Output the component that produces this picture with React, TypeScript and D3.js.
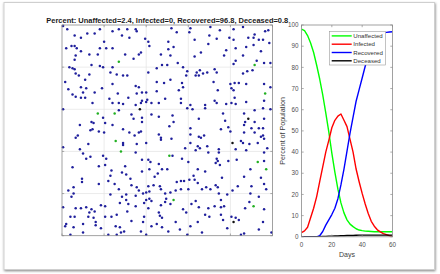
import React from "react";
import * as d3 from "d3";

const W = 440;
const H = 274;
const FONT = "'Liberation Sans', Arial, Helvetica, sans-serif";

const titleText = "Percent: Unaffected=2.4, Infected=0, Recovered=96.8, Deceased=0.8";
const seriesNames = ["Unaffected", "Infected", "Recovered", "Deceased"];
const seriesColors = ["#00ff00", "#ff0000", "#0000ff", "#000000"];
const xLabel = "Days";
const yLabel = "Percent of Population";

const days = [0, 2, 4, 6, 8, 10, 12, 14, 16, 18, 20, 22, 24, 26, 28, 30, 32, 34, 36, 38, 40, 42, 44, 46, 48, 50, 52, 54, 56, 58, 60];
const unaffected = [98, 97.3, 95, 91.5, 87, 81, 74.5, 67, 58.5, 49.5, 39.5, 30.5, 22.5, 16, 11.3, 8, 6, 4.8, 3.8, 3.2, 2.9, 2.7, 2.6, 2.5, 2.4, 2.4, 2.4, 2.4, 2.4, 2.4, 2.4];
const infected = [2, 2.8, 4.5, 9, 13.5, 19, 26, 33, 40, 45.5, 51.5, 55, 57, 58, 55, 52, 46, 40, 32, 26, 20.5, 15.5, 11, 7.3, 5, 3.3, 2.3, 1.5, 1, 0.5, 0.1];
const recovered = [0, 0, 0, 0, 0, 0, 0.5, 2.5, 5.5, 8, 10.5, 13.5, 18, 24.5, 32, 40.5, 49, 56.5, 64, 69.5, 75, 80.5, 85.5, 89.5, 92.5, 94.5, 95.8, 96.3, 96.5, 96.7, 96.8];
const deceased = [0, 0, 0, 0, 0, 0, 0.1, 0.2, 0.2, 0.3, 0.3, 0.4, 0.4, 0.5, 0.5, 0.6, 0.6, 0.6, 0.7, 0.8, 0.8, 0.8, 0.8, 0.8, 0.8, 0.8, 0.8, 0.8, 0.8, 0.8, 0.8];

const yTicks = [0, 10, 20, 30, 40, 50, 60, 70, 80, 90, 100];
const xTicks = [0, 20, 40, 60];
const gridTicks = [0, 20, 40, 60, 80, 100];

const unaffectedPts: [number, number][] = [
  [27, 82.5], [17, 58], [25, 58], [91.5, 81], [96.5, 67.5], [25.5, 45], [28, 40], [51, 38], [93, 35], [97, 31.5], [53, 17], [91, 14],
];
const deceasedPts: [number, number][] = [[37, 60], [88.5, 55.5], [81, 44], [81.5, 6.5]];
const recoveredPts: [number, number][] = [
  [2.5, 98], [0.5, 99.5], [18, 98], [24, 97], [27, 98], [31, 98], [35, 98], [35.5, 97], [12, 96], [15.5, 96], [28.5, 95], [6, 95], [9, 94], [32, 94], [39.5, 93.5], [20, 92], [41, 92], [2, 89], [4.5, 90], [6, 90], [7, 89], [18, 89], [21, 89], [24, 89], [41.5, 90], [9, 87.5], [37.5, 87], [6.5, 85.5], [13, 86], [17, 86], [30, 86], [36.5, 86], [47, 86], [34, 84], [6, 83.5], [14, 81], [18, 80.5], [19.5, 80], [3.5, 80], [5, 79.5], [6, 79], [24, 80], [45, 79.5], [47.5, 81], [50, 81], [41, 77.5], [6.5, 77], [8, 76], [13, 76.5], [23, 77.5], [26, 76.5], [29, 76], [31, 76], [11, 74], [1.5, 73], [24, 72], [35, 71], [36.5, 70.5], [45, 73], [48.5, 72.5], [9, 70.5], [11.5, 70], [3, 69.5], [19, 70], [15.5, 68], [10, 68], [5, 67], [6.5, 66], [9, 65.5], [11, 65.5], [45, 68.5], [22.5, 65], [26.5, 67.5], [31.5, 65.5], [35.5, 67.5], [38, 68], [40, 68], [49, 65], [14.5, 63], [27, 63], [29, 62.5], [24, 63], [38, 64], [37.5, 63], [40.5, 64.5], [40, 63.5], [42.5, 63], [46, 63], [35, 62], [0.5, 60], [27, 59.5], [33, 57.5], [42.5, 57.5], [19.5, 56], [38, 56], [34, 55.5], [46, 56.5], [14, 54], [15, 53.5], [8.5, 52.5], [20.5, 53.5], [38, 54], [24, 52.5], [29, 50.5],
  [52, 98.5], [61, 98.5], [70.5, 99], [75, 97.5], [81.5, 98], [86, 99], [96.5, 97], [98, 97.5], [54.5, 96.5], [60.5, 96.5], [91.5, 95.5], [63, 93], [70, 95], [73.5, 93.5], [79.5, 94], [81.5, 93], [88.5, 94], [91, 94], [93.5, 93], [95.5, 93], [50.5, 92], [69.5, 91], [91, 90.5], [98.5, 91.5], [53, 89.5], [50.5, 88.5], [82.5, 89], [87.5, 89.5], [94.5, 87.5], [78, 88], [66, 87], [63, 85], [77, 85.5], [86, 85.5], [82.5, 83], [81.5, 81.5], [92.5, 83], [51.5, 85.5], [55, 82], [96, 82], [99, 82], [57.5, 80], [59.5, 78], [64, 77.5], [65.5, 78.5], [69, 77.5], [67, 77], [72.5, 79], [73.5, 77.5], [88, 78], [86, 77], [90.5, 78.5], [51.5, 74], [63.5, 76], [65, 76], [59, 76], [84, 72.5], [82, 72.5], [80, 72], [96, 72], [72, 73], [57, 72.5], [57.5, 70.5], [55.5, 69], [74, 69], [80.5, 70], [81.5, 69], [87.5, 72], [99, 70.5], [82, 65.5], [56.5, 65], [56.5, 63], [72.5, 64], [73.5, 63], [61, 62], [68, 62], [78, 62.5], [80.5, 63], [82.5, 62.5], [87.5, 63.5], [96, 64], [59.5, 60.5], [62, 60], [68, 60.5], [76.5, 58], [86.5, 58], [91.5, 59.5], [95.5, 60.5], [99, 60], [52.5, 57], [65, 55.5], [77.5, 54.5], [91.5, 54], [96, 55.5], [87, 54], [53, 54], [51, 52], [61, 51], [75.5, 50.5], [79, 51.5], [86.5, 52.5], [90, 51], [93.5, 51], [95.5, 51],
  [13.5, 50], [14.5, 50.5], [17.5, 49.5], [20, 49], [32, 49], [36.5, 49], [37.5, 49.5], [34.5, 47.5], [46, 48], [47, 46.5], [47, 45.5], [6.5, 46.5], [7.5, 47.5], [29, 44], [29, 43], [35.5, 43.5], [40, 44], [12.5, 43.5], [0.5, 42], [8.5, 41], [10, 39], [35, 39.5], [13.5, 37.5], [11.5, 36.5], [19.5, 38], [21, 36.5], [38, 36], [41, 36], [42, 35], [46, 34], [5, 32.5], [17.5, 33], [20.5, 33.5], [30, 33], [47.5, 31.5], [38, 30.5], [41.5, 31.5], [23.5, 31], [28.5, 30], [30.5, 29], [44, 28], [45.5, 29.5], [32.5, 27], [9.5, 27], [9.5, 25.5], [23, 28.5], [22, 26], [25, 24.5], [17.5, 24.5], [33, 24], [35.5, 23], [27, 22], [36.5, 21.5], [41, 23.5], [43.5, 24], [46.5, 23.5], [47, 22], [5.5, 23], [3, 21.5], [5.5, 20], [4.5, 18.5], [30.5, 19.5], [28.5, 18.5], [35, 19], [38.5, 20], [40, 20.5], [41.5, 21], [41.5, 17.5], [40, 17], [42.5, 16.5], [49, 20], [49.5, 17.5], [23, 19.5], [0.5, 13.5], [6.5, 13], [9, 13], [11.5, 13.5], [14, 12.5], [18.5, 14.5], [20.5, 14], [27.5, 15.5], [30.5, 17], [31.5, 15], [35, 14], [39, 15.5], [41, 13], [47, 14.5], [49, 16], [13, 11], [15.5, 11.5], [31, 11.5], [4, 9], [6, 9], [12.5, 9], [20.5, 9], [23.5, 9], [26, 10], [15, 8.5], [39, 9], [46, 11], [46.5, 9.5], [47.5, 8.5], [2, 5.5], [1.5, 4.5], [10, 5.5], [16, 6.5], [16, 5], [33, 7], [38.5, 6.5], [42.5, 4.5], [45, 5.5], [5.5, 4], [18.5, 3.5], [25.5, 4.5], [27.5, 4], [4, 0.5], [10, 1.5], [22, 0.5], [26, 0.5], [28, 1.5], [29.5, 2], [37.5, 2], [40, 0.5], [47.5, 4],
  [61, 48], [65, 47], [66, 46.5], [67.5, 47.5], [80, 49.5], [86.5, 49], [91.5, 49], [94.5, 47], [95.5, 47.5], [96, 46], [52, 46], [85, 45], [86, 44], [61, 44], [64.5, 42.5], [65.5, 41.5], [69, 42.5], [74.5, 41], [74.5, 39.5], [87.5, 40.5], [82.5, 41], [89, 43.5], [93, 44], [97.5, 41.5], [96, 39.5], [58.5, 41.5], [63.5, 40.5], [69.5, 39.5], [52.5, 38], [57, 36.5], [73.5, 36.5], [74, 35.5], [60, 35], [79, 35.5], [83, 36], [96, 35.5], [73, 34.5], [75, 33.5], [50, 31.5], [64.5, 31.5], [89.5, 31.5], [68, 30.5], [62.5, 28.5], [86.5, 28], [94.5, 27.5], [56.5, 26], [58, 26], [60.5, 26.5], [63, 26.5], [64.5, 25], [54.5, 25.5], [76, 27.5], [73, 24], [74, 23], [60, 22], [54, 21.5], [56.5, 22], [66.5, 22], [70.5, 22], [81, 21.5], [83.5, 23.5], [90, 23.5], [96, 24.5], [51.5, 20.5], [74.5, 20], [78.5, 19.5], [93.5, 18.5], [97, 22], [89.5, 20], [68.5, 23], [63.5, 16.5], [89, 16], [75.5, 17], [51.5, 15], [61.5, 15], [65, 13.5], [69.5, 13], [72.5, 14], [75.5, 13.5], [77, 14], [87, 13], [96, 12.5], [57.5, 12.5], [68, 10], [75.5, 10], [70, 9], [59, 11], [80.5, 9], [82.5, 8.5], [84, 7.5], [54, 6.5], [64.5, 6.5], [61, 4.5], [76.5, 7.5], [95.5, 6.5], [50.5, 2], [56, 3], [78.5, 3.5], [93.5, 3], [59.5, 0.5], [66.5, 1.5], [85, 0.5], [86.5, 1], [99.5, 1.5],
];

const LEFT = { x0: 62, x1: 272.5, y0: 25, y1: 235.7 };
const RIGHT = { x0: 301.5, x1: 392.5, y0: 25, y1: 236.8 };
const AXIS_COLOR = "#8a8a8a";
const TICK_TEXT = "#505050";

export default function App() {
  const sx = d3.scaleLinear().domain([0, 100]).range([LEFT.x0, LEFT.x1]);
  const sy = d3.scaleLinear().domain([0, 100]).range([LEFT.y1, LEFT.y0]);
  const rx = d3.scaleLinear().domain([0, 60]).range([RIGHT.x0, RIGHT.x1]);
  const ry = d3.scaleLinear().domain([0, 100]).range([RIGHT.y1, RIGHT.y0]);

  const seriesValues = [unaffected, infected, recovered, deceased];
  const line = (vals: number[]) =>
    d3.line<number>().x((_, i) => rx(days[i])).y((v) => ry(v))(vals) || "";

  const tl = 2.2;

  const legend = { x: 329.3, y: 31.3, w: 56.4, h: 33.7, row0: 35.9, dy: 8.3 };

  return (
    <svg
      width={W}
      height={H}
      viewBox={`0 0 ${W} ${H}`}
      style={{ position: "absolute", left: 0, top: 0, display: "block", background: "#ffffff" }}
      fontFamily={FONT}
    >
      <defs>
        <filter id="shadow" x="-5%" y="-5%" width="110%" height="115%">
          <feDropShadow dx="0.6" dy="1.2" stdDeviation="1.2" floodColor="#000" floodOpacity="0.45" />
        </filter>
        <clipPath id="rclip">
          <rect x={RIGHT.x0} y={RIGHT.y0} width={RIGHT.x1 - RIGHT.x0} height={RIGHT.y1 - RIGHT.y0} />
        </clipPath>
      </defs>

      {/* card */}
      <rect x={4} y={2.5} width={430.5} height={267} fill="#ffffff" stroke="#cfcfcf" strokeWidth={1} filter="url(#shadow)" />

      {/* ===== LEFT: scatter ===== */}
      <text
        x={(LEFT.x0 + LEFT.x1) / 2}
        y={23}
        textAnchor="middle"
        fontSize={6.5}
        fontWeight="bold"
        fill="#1a1a1a"
        textLength={242}
        lengthAdjust="spacingAndGlyphs"
      >
        {titleText}
      </text>
      <rect x={LEFT.x0} y={LEFT.y0} width={LEFT.x1 - LEFT.x0} height={LEFT.y1 - LEFT.y0} fill="#ffffff" />
      {gridTicks.slice(1, -1).map((t) => (
        <g key={"g" + t}>
          <line x1={sx(t)} x2={sx(t)} y1={LEFT.y0} y2={LEFT.y1} stroke="#e2e2e2" strokeWidth={0.7} />
          <line x1={LEFT.x0} x2={LEFT.x1} y1={sy(t)} y2={sy(t)} stroke="#e2e2e2" strokeWidth={0.7} />
        </g>
      ))}
      {gridTicks.map((t) => (
        <g key={"lt" + t} stroke={AXIS_COLOR} strokeWidth={0.7}>
          <line x1={sx(t)} x2={sx(t)} y1={LEFT.y1} y2={LEFT.y1 - tl} />
          <line x1={sx(t)} x2={sx(t)} y1={LEFT.y0} y2={LEFT.y0 + tl} />
          <line x1={LEFT.x0} x2={LEFT.x0 + tl} y1={sy(t)} y2={sy(t)} />
          <line x1={LEFT.x1} x2={LEFT.x1 - tl} y1={sy(t)} y2={sy(t)} />
        </g>
      ))}
      {recoveredPts.map(([x, y], i) => (
        <circle key={"r" + i} cx={sx(x)} cy={sy(y)} r={1.25} fill="#1f1f9c" />
      ))}
      {unaffectedPts.map(([x, y], i) => (
        <circle key={"u" + i} cx={sx(x)} cy={sy(y)} r={1.25} fill="#22b022" />
      ))}
      {deceasedPts.map(([x, y], i) => (
        <circle key={"d" + i} cx={sx(x)} cy={sy(y)} r={1.25} fill="#111111" />
      ))}
      <rect
        x={LEFT.x0}
        y={LEFT.y0}
        width={LEFT.x1 - LEFT.x0}
        height={LEFT.y1 - LEFT.y0}
        fill="none"
        stroke={AXIS_COLOR}
        strokeWidth={0.8}
      />

      {/* ===== RIGHT: lines ===== */}
      <rect x={RIGHT.x0} y={RIGHT.y0} width={RIGHT.x1 - RIGHT.x0} height={RIGHT.y1 - RIGHT.y0} fill="#ffffff" />
      <g clipPath="url(#rclip)">
        {seriesValues.map((vals, i) => (
          <path
            key={"s" + i}
            d={line(vals)}
            fill="none"
            stroke={seriesColors[i]}
            strokeWidth={1.4}
            strokeLinejoin="round"
          />
        ))}
      </g>
      {yTicks.map((t) => (
        <g key={"ry" + t}>
          <line x1={RIGHT.x0} x2={RIGHT.x0 + tl} y1={ry(t)} y2={ry(t)} stroke={AXIS_COLOR} strokeWidth={0.7} />
          <line x1={RIGHT.x1} x2={RIGHT.x1 - tl} y1={ry(t)} y2={ry(t)} stroke={AXIS_COLOR} strokeWidth={0.7} />
          <text x={RIGHT.x0 - 3} y={ry(t)} dy="0.35em" textAnchor="end" fontSize={6.3} fill={TICK_TEXT}>
            {t}
          </text>
        </g>
      ))}
      {xTicks.map((t) => (
        <g key={"rx" + t}>
          <line x1={rx(t)} x2={rx(t)} y1={RIGHT.y1} y2={RIGHT.y1 - tl} stroke={AXIS_COLOR} strokeWidth={0.7} />
          <line x1={rx(t)} x2={rx(t)} y1={RIGHT.y0} y2={RIGHT.y0 + tl} stroke={AXIS_COLOR} strokeWidth={0.7} />
          <text x={rx(t)} y={245} dy="0.35em" textAnchor="middle" fontSize={6.3} fill={TICK_TEXT}>
            {t}
          </text>
        </g>
      ))}
      <rect
        x={RIGHT.x0}
        y={RIGHT.y0}
        width={RIGHT.x1 - RIGHT.x0}
        height={RIGHT.y1 - RIGHT.y0}
        fill="none"
        stroke={AXIS_COLOR}
        strokeWidth={0.8}
      />
      <text x={(RIGHT.x0 + RIGHT.x1) / 2} y={254.5} dy="0.35em" textAnchor="middle" fontSize={7} fill="#404040">
        {xLabel}
      </text>
      <text
        transform={`translate(282,${(RIGHT.y0 + RIGHT.y1) / 2}) rotate(-90)`}
        textAnchor="middle"
        dy="0.35em"
        fontSize={7.1}
        fill="#404040"
      >
        {yLabel}
      </text>

      {/* legend */}
      <rect x={legend.x} y={legend.y} width={legend.w} height={legend.h} fill="#ffffff" stroke="#9a9a9a" strokeWidth={0.6} />
      {seriesNames.map((name, i) => {
        const y = legend.row0 + i * legend.dy;
        return (
          <g key={"lg" + name}>
            <line x1={331.7} x2={351.7} y1={y} y2={y} stroke={seriesColors[i]} strokeWidth={1.4} />
            <text x={353.3} y={y} dy="0.35em" fontSize={6.1} fill="#333333">
              {name}
            </text>
          </g>
        );
      })}
    </svg>
  );
}
